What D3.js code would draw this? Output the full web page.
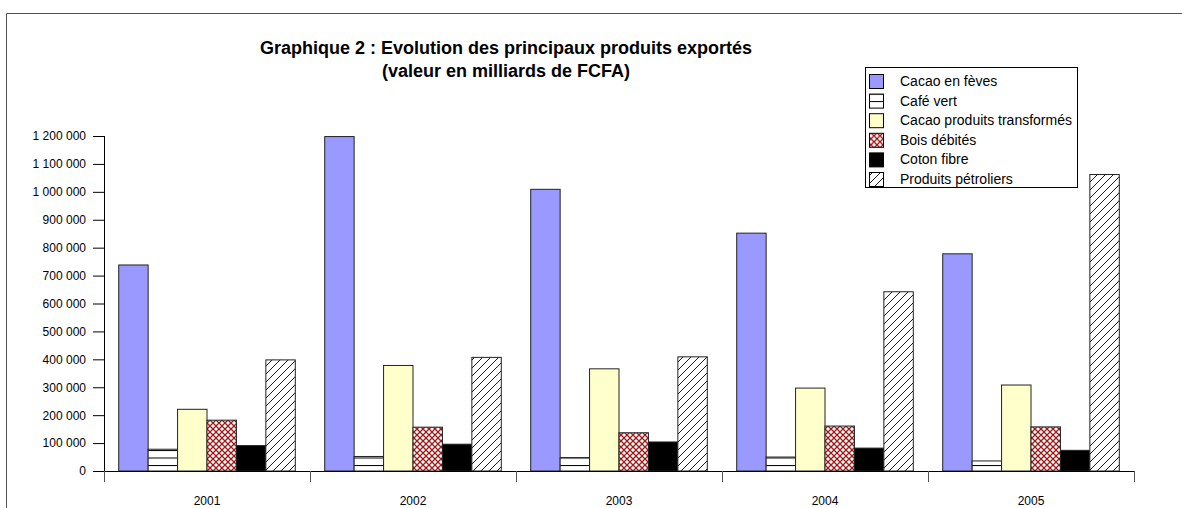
<!DOCTYPE html>
<html>
<head>
<meta charset="utf-8">
<script src="https://cdn.jsdelivr.net/npm/d3@7"></script>
<style>
  body { margin: 0; background: #fff; }
  svg { display: block; font-family: Arial, "Liberation Sans", sans-serif; }
</style>
</head>
<body>
<svg id="chart" width="1182" height="508"></svg>
<script>
var years = ['2001', '2002', '2003', '2004', '2005'];
var seriesNames = ['Cacao en fèves', 'Café vert', 'Cacao produits transformés', 'Bois débités', 'Coton fibre', 'Produits pétroliers'];
var cacaoFeves = [738000, 1198000, 1009000, 852000, 778000];
var cafeVert = [78000, 52000, 48000, 50000, 36000];
var cacaoTransformes = [221000, 378000, 366000, 297000, 308000];
var boisDebites = [182000, 157000, 137000, 161000, 158000];
var cotonFibre = [91000, 96000, 104000, 82000, 74000];
var produitsPetroliers = [398000, 407000, 409000, 642000, 1062000];
var yTicks = [0, 100000, 200000, 300000, 400000, 500000, 600000, 700000, 800000, 900000, 1000000, 1100000, 1200000];

var allSeries = [cacaoFeves, cafeVert, cacaoTransformes, boisDebites, cotonFibre, produitsPetroliers];
var fills = ['#9999ff', 'url(#hLines)', '#ffffcc', 'url(#crossRed)', '#000000', 'url(#diag)'];

var svg = d3.select('#chart');
var width = 1182, height = 508;
var margin = { left: 104, right: 48, top: 136, bottom: 37 };

// patterns
var defs = svg.append('defs');
var p1 = defs.append('pattern').attr('id', 'hLines')
  .attr('patternUnits', 'userSpaceOnUse').attr('width', 8).attr('height', 7.5);
p1.append('rect').attr('width', 8).attr('height', 7.5).attr('fill', '#fff');
p1.append('line').attr('x1', 0).attr('x2', 8).attr('y1', 0.5).attr('y2', 0.5)
  .attr('stroke', '#000').attr('stroke-width', 1);

var p2 = defs.append('pattern').attr('id', 'crossRed')
  .attr('patternUnits', 'userSpaceOnUse').attr('width', 6).attr('height', 6);
p2.append('rect').attr('width', 6).attr('height', 6).attr('fill', '#fff');
p2.append('path').attr('d', 'M0,0L6,6M6,0L0,6')
  .attr('stroke', '#a01818').attr('stroke-width', 1.3);

var p3 = defs.append('pattern').attr('id', 'diag')
  .attr('patternUnits', 'userSpaceOnUse').attr('width', 8).attr('height', 8);
p3.append('rect').attr('width', 8).attr('height', 8).attr('fill', '#fff');
p3.append('path').attr('d', 'M-1,1L1,-1M0,8L8,0M7,9L9,7')
  .attr('stroke', '#000').attr('stroke-width', 0.9);

// outer frame (top and left only)
svg.append('path')
  .attr('d', 'M6.5,' + height + 'V13.5H' + width)
  .attr('fill', 'none').attr('stroke', '#555').attr('stroke-width', 1);

var x0 = d3.scaleBand().domain(years).range([margin.left, width - margin.right]);
var x1 = d3.scaleBand().domain(d3.range(seriesNames.length))
  .range([0, x0.bandwidth()]).paddingOuter(0.5);
var y = d3.scaleLinear().domain([0, 1200000]).range([height - margin.bottom, margin.top]);

var fmt = function(d) { return d3.format(',')(d).replace(/,/g, ' '); };

// bars
allSeries.forEach(function(values, si) {
  svg.append('g').selectAll('rect')
    .data(values)
    .enter().append('rect')
      .attr('x', function(d, i) { return x0(years[i]) + x1(si); })
      .attr('y', function(d) { return y(d); })
      .attr('width', x1.bandwidth())
      .attr('height', function(d) { return y(0) - y(d); })
      .attr('fill', fills[si])
      .attr('stroke', '#222')
      .attr('stroke-width', 1);
});

// y axis
var yAxis = svg.append('g')
  .attr('transform', 'translate(' + margin.left + ',0)')
  .call(d3.axisLeft(y).tickValues(yTicks).tickFormat(fmt).tickSize(11).tickPadding(7));
yAxis.select('.domain').attr('d', 'M0.5,' + (y(0) + 11) + 'V' + y(1200000));

// x axis
var xAxis = svg.append('g')
  .attr('transform', 'translate(0,' + y(0) + ')')
  .call(d3.axisBottom(x0).tickSize(0).tickPadding(25));
xAxis.select('.domain').attr('d', 'M' + (margin.left - 11) + ',0.5H' + (width - margin.right));
xAxis.selectAll('.sep')
  .data(years.concat(['end']))
  .enter().append('line')
    .attr('class', 'sep')
    .attr('x1', function(d, i) { return i < years.length ? x0(d) + 0.5 : x0(years[years.length - 1]) + x0.bandwidth() + 0.5; })
    .attr('x2', function(d, i) { return i < years.length ? x0(d) + 0.5 : x0(years[years.length - 1]) + x0.bandwidth() + 0.5; })
    .attr('y1', 0).attr('y2', 11)
    .attr('stroke', '#555');

svg.selectAll('.tick text').attr('font-size', 12).attr('fill', '#000')
  .attr('font-family', 'Arial, "Liberation Sans", sans-serif');
svg.selectAll('.domain, .tick line').attr('stroke', '#000');

// title
var title = svg.append('text')
  .attr('x', 506).attr('y', 54)
  .attr('text-anchor', 'middle')
  .attr('font-size', 18).attr('font-weight', 'bold');
title.append('tspan').attr('x', 506).text('Graphique 2 : Evolution des principaux produits exportés');
title.append('tspan').attr('x', 506).attr('dy', 23).text('(valeur en milliards de FCFA)');

// legend
var legend = svg.append('g').attr('transform', 'translate(865,67)');
legend.append('rect')
  .attr('x', 0.5).attr('y', 0.5).attr('width', 212).attr('height', 120)
  .attr('fill', '#fff').attr('stroke', '#000');
var item = legend.selectAll('.item')
  .data(seriesNames)
  .enter().append('g')
    .attr('class', 'item')
    .attr('transform', function(d, i) { return 'translate(0,' + (7 + i * 19.6) + ')'; });
item.append('rect')
  .attr('x', 4.5).attr('y', 0.5).attr('width', 14).attr('height', 14)
  .attr('fill', function(d, i) { return fills[i]; })
  .attr('stroke', '#000');
item.append('text')
  .attr('x', 35).attr('y', 12)
  .attr('font-size', 14)
  .text(function(d) { return d; });
</script>
</body>
</html>
